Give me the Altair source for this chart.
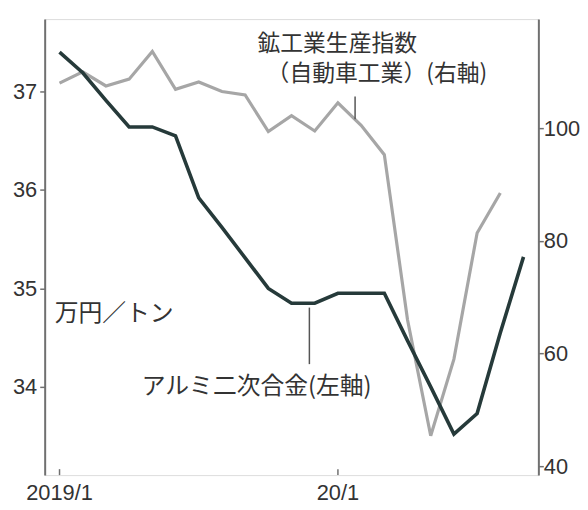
import altair as alt
import pandas as pd

# ---- data ----
alu_month = list(range(21))
alu_price = [37.40, 37.19, 36.91, 36.64, 36.64, 36.55, 35.92, 35.62, 35.31, 35.00,
             34.85, 34.85, 34.95, 34.95, 34.95, 34.47, 34.00, 33.52, 33.73, 34.55, 35.32]
ip_month = list(range(20))
ip_index = [108.0, 110.0, 107.5, 108.7, 113.6, 106.9, 108.2, 106.5, 105.9, 99.4,
            102.2, 99.5, 104.5, 100.5, 95.3, 66.0, 45.4, 59.0, 81.4, 88.5]

x_tick_values = [0, 12]
x_tick_labels = ["2019/1", "20/1"]
left_ticks = [34, 35, 36, 37]
right_ticks = [40, 60, 80, 100]

ann_text = ["鉱工業生産指数", "（自動車工業）(右軸)", "万円／トン", "アルミ二次合金(左軸)"]
ann_x = [11.97, 13.68, -0.21, 8.5]
ann_y = [37.478, 37.176, 34.735, 34.0]
ann_align = ["center", "center", "left", "center"]
ann_size = [23, 23, 24, 24]

leader_x = [12.74, 10.77]
leader_y = [36.95, 34.805]
leader_y2 = [36.718, 34.231]

# ---- tables ----
alu_df = pd.DataFrame({"m": alu_month, "v": alu_price})
ip_df = pd.DataFrame({"m": ip_month, "v": ip_index})
ann_df = pd.DataFrame({"m": ann_x, "v": ann_y, "t": ann_text, "a": ann_align, "s": ann_size})
lead_df = pd.DataFrame({"m": leader_x, "v": leader_y, "v2": leader_y2})
xt_df = pd.DataFrame({"m": x_tick_values, "t": x_tick_labels})

AXIS_COLOR = "#707070"
TEXT_COLOR = "#333333"
NUM_FONT = "Liberation Sans"
JP_FONT = "Noto Sans CJK JP"
NUM_SIZE = 22
H = 460
W = 498

x_scale = alt.Scale(domain=[-0.64, 20.64], nice=False, zero=False)
x_axis = alt.Axis(values=x_tick_values, title=None, grid=False, labels=False,
                  ticks=False, domainColor=AXIS_COLOR, domainWidth=2)
yl_scale = alt.Scale(domain=[33.104, 37.735], nice=False, zero=False)
yr_scale = alt.Scale(domain=[38.42, 119.36], nice=False, zero=False)

left_axis = alt.Axis(orient="left", values=left_ticks, title=None, grid=False,
                     tickSize=5, tickColor=AXIS_COLOR, tickWidth=1.5, labelPadding=3,
                     labelFont=NUM_FONT, labelFontSize=NUM_SIZE, labelColor=TEXT_COLOR,
                     domainColor=AXIS_COLOR, domainWidth=2)
right_axis = alt.Axis(orient="right", values=right_ticks, title=None, grid=False,
                      tickSize=5, tickColor=AXIS_COLOR, tickWidth=1.5, labelPadding=0,
                      labelFont=NUM_FONT, labelFontSize=NUM_SIZE, labelColor=TEXT_COLOR,
                      domainColor=AXIS_COLOR, domainWidth=2)

gray_line = alt.Chart(ip_df).mark_line(color="#a6a6a6", strokeWidth=3.2).encode(
    x=alt.X("m:Q", scale=x_scale, axis=x_axis),
    y=alt.Y("v:Q", scale=yr_scale, axis=right_axis),
)

dark_line = alt.Chart(alu_df).mark_line(color="#263a3a", strokeWidth=3.6).encode(
    x=alt.X("m:Q", scale=x_scale, axis=None),
    y=alt.Y("v:Q", scale=yl_scale, axis=left_axis),
)

leaders = alt.Chart(lead_df).mark_rule(color="#555555", strokeWidth=1.5).encode(
    x=alt.X("m:Q", scale=x_scale, axis=None),
    y=alt.Y("v:Q", scale=yl_scale, axis=None),
    y2="v2:Q",
)

xticks = alt.Chart(xt_df).mark_rule(color=AXIS_COLOR, strokeWidth=1.5).encode(
    x=alt.X("m:Q", scale=x_scale, axis=None),
    y=alt.value(H), y2=alt.value(H - 6),
)

xlabels = alt.Chart(xt_df).mark_text(
    font=NUM_FONT, fontSize=NUM_SIZE, color=TEXT_COLOR, align="center", baseline="top"
).encode(
    x=alt.X("m:Q", scale=x_scale, axis=None),
    y=alt.value(H + 8),
    text="t:N",
)

texts = []
for al in ["left", "center"]:
    texts.append(
        alt.Chart(ann_df[ann_df["a"] == al]).mark_text(
            font=JP_FONT, color=TEXT_COLOR, align=al, baseline="middle"
        ).encode(
            x=alt.X("m:Q", scale=x_scale, axis=None),
            y=alt.Y("v:Q", scale=yl_scale, axis=None),
            text="t:N",
            size=alt.Size("s:Q", scale=None, legend=None),
        )
    )

chart = alt.layer(gray_line, dark_line, leaders, xticks, xlabels, *texts).resolve_scale(
    y="independent"
).properties(
    width=W, height=H,
    autosize=alt.AutoSizeParams(type="none"),
    padding={"left": 37, "top": 9, "right": 42, "bottom": 31},
).configure_view(stroke=None).configure(background="white")

chart.save("out.html", embed_options={"renderer": "svg", "actions": False})
